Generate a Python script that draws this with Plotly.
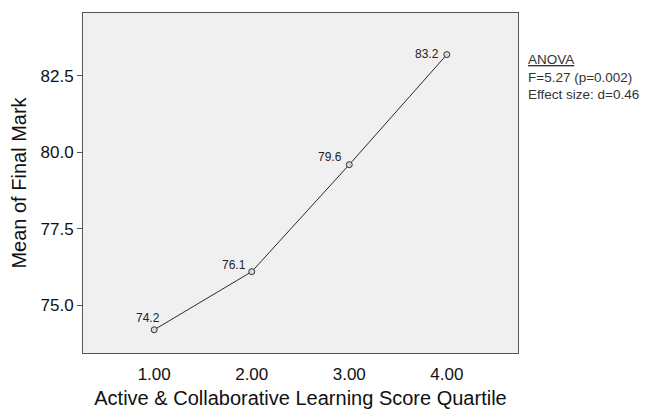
import plotly.graph_objects as go

# Quartile means of final mark
quartiles = [1.0, 2.0, 3.0, 4.0]
mean_marks = [74.2, 76.1, 79.6, 83.2]
x_tick_vals = [1.0, 2.0, 3.0, 4.0]
x_tick_text = ["1.00", "2.00", "3.00", "4.00"]
y_tick_vals = [75.0, 77.5, 80.0, 82.5]
y_tick_text = ["75.0", "77.5", "80.0", "82.5"]
stats_lines = ["<u>ANOVA</u>", "F=5.27 (p=0.002)", "Effect size: d=0.46"]

FONT = "Liberation Sans, Arial, sans-serif"
PLOT_TOP, PLOT_BOTTOM = 13, 353  # pixel rows of the plotting area

fig = go.Figure()
fig.add_trace(go.Scatter(
    x=quartiles, y=mean_marks, mode="lines+markers",
    line=dict(color="#2a2a2a", width=1),
    marker=dict(symbol="circle", size=6, color="#d8d8d8",
                line=dict(color="#333333", width=1)),
    hoverinfo="skip", showlegend=False,
))

# value labels next to each point
offsets = [(-6, 12), (-18, 7), (-19, 8), (-20, 1)]
for xv, yv, (dx, dy) in zip(quartiles, mean_marks, offsets):
    fig.add_annotation(x=xv, y=yv, text=f"{yv:.1f}", showarrow=False,
                       xshift=dx, yshift=dy,
                       font=dict(family=FONT, size=12, color="#222222"))

# statistics block beside the plot
fig.add_annotation(xref="paper", yref="paper", x=1.018,
                   y=(PLOT_BOTTOM - 77) / (PLOT_BOTTOM - PLOT_TOP),
                   xanchor="left", yanchor="middle", align="left",
                   text="<br>".join(stats_lines), showarrow=False,
                   font=dict(family=FONT, size=13.5, color="#333333"))

fig.update_layout(
    width=670, height=409,
    margin=dict(l=83, r=152, t=PLOT_TOP, b=409 - PLOT_BOTTOM),
    paper_bgcolor="white", plot_bgcolor="#f0f0f0",
    font=dict(family=FONT, color="#111111"),
    xaxis=dict(range=[0.27, 4.73], tickvals=x_tick_vals, ticktext=x_tick_text,
               automargin=False,
               showgrid=False, zeroline=False, showline=True, mirror=True,
               linecolor="#555555", linewidth=1, ticks="outside", ticklen=6,
               tickcolor="rgba(0,0,0,0)",
               tickfont=dict(size=17), title=dict(
                   text="Active &amp; Collaborative Learning Score Quartile",
                   font=dict(size=20), standoff=8)),
    yaxis=dict(range=[73.44, 84.56], tickvals=y_tick_vals, ticktext=y_tick_text,
               automargin=False,
               showgrid=False, zeroline=False, showline=True, mirror=True,
               linecolor="#555555", linewidth=1, ticks="outside", ticklen=5,
               tickcolor="#555555", tickfont=dict(size=17),
               title=dict(text="Mean of Final Mark", font=dict(size=20),
                          standoff=8)),
)

fig.write_html("out.html")
